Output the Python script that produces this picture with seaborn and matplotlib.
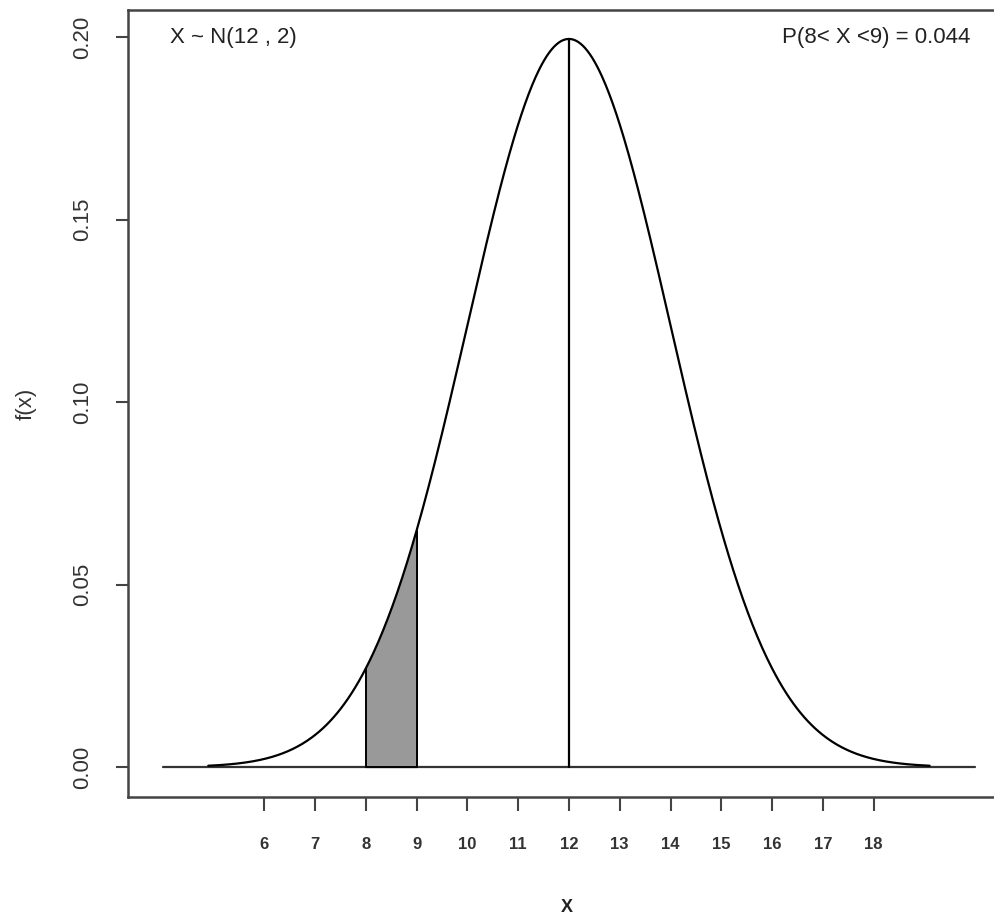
import numpy as np
import pandas as pd
import matplotlib
matplotlib.use("Agg")
import matplotlib.pyplot as plt
import seaborn as sns

# Distribution parameters (from the chart annotation)
mu = 12
sigma = 2
curve_range = [4.9, 19.1]
shade_range = [8, 9]
baseline_range = [4, 20]
x_ticks = [6, 7, 8, 9, 10, 11, 12, 13, 14, 15, 16, 17, 18]
y_ticks = [0.00, 0.05, 0.10, 0.15, 0.20]
y_tick_labels = ["0.00", "0.05", "0.10", "0.15", "0.20"]
prob_text = "P(8< X <9) = 0.044"
dist_text = "X ~ N(12 , 2)"


def pdf(x):
    return np.exp(-0.5 * ((x - mu) / sigma) ** 2) / (sigma * np.sqrt(2 * np.pi))


xs = np.linspace(curve_range[0], curve_range[1], 600)
df = pd.DataFrame({"x": xs, "f": pdf(xs)})
xsh = np.linspace(shade_range[0], shade_range[1], 100)

sns.set_theme(style="white")
plt.rcParams["font.family"] = ["Liberation Sans", "DejaVu Sans"]

fig = plt.figure(figsize=(9.95, 9.17), dpi=100)
ax = fig.add_axes([128 / 995, 1 - 797 / 917, 1 - 128 / 995 + 0.01, (797 - 10) / 917])

# baseline
ax.plot(baseline_range, [0, 0], color="#333333", lw=1.6, zorder=2)
# shaded area
ax.fill_between(xsh, 0, pdf(xsh), color="#999999", zorder=3)
ax.plot([shade_range[0]] * 2, [0, pdf(shade_range[0])], color="black", lw=1.4, zorder=4)
ax.plot([shade_range[1]] * 2, [0, pdf(shade_range[1])], color="black", lw=1.4, zorder=4)
ax.plot(shade_range, [0, 0], color="black", lw=1.4, zorder=4)
# curve
sns.lineplot(data=df, x="x", y="f", ax=ax, color="black", lw=1.6, zorder=5)
# vertical line at mean
ax.plot([mu, mu], [0, pdf(mu)], color="black", lw=1.6, zorder=5)

ax.set_xlim(3.32, 12 + (995 * 1.0 + 10 - 569) / 50.8)
ax.set_ylim(-0.0082, 0.2074)

ax.set_xticks(x_ticks)
ax.set_xticklabels([str(t) for t in x_ticks], fontsize=12, fontweight="bold", color="#333333")
ax.set_yticks(y_ticks)
ax.set_yticklabels(y_tick_labels, fontsize=16, rotation=90, va="center", color="#333333")

ax.tick_params(axis="x", direction="out", length=10, width=1.5, color="#444444", pad=19, bottom=True)
ax.tick_params(axis="y", direction="out", length=9, width=1.5, color="#444444", pad=16, left=True)

for s in ["left", "bottom", "top"]:
    ax.spines[s].set_color("#444444")
    ax.spines[s].set_linewidth(1.8)
ax.spines["right"].set_visible(False)

ax.set_xlabel("X", fontsize=13, fontweight="bold", color="#222222", labelpad=34)
ax.set_ylabel("f(x)", fontsize=16, color="#333333", labelpad=26)

ax.text(4.15, 0.2, dist_text, fontsize=16, ha="left", va="center", color="#222222")
ax.text(19.9, 0.2, prob_text, fontsize=16, ha="right", va="center", color="#222222")

fig.savefig("out.png", dpi=100, facecolor="white")
